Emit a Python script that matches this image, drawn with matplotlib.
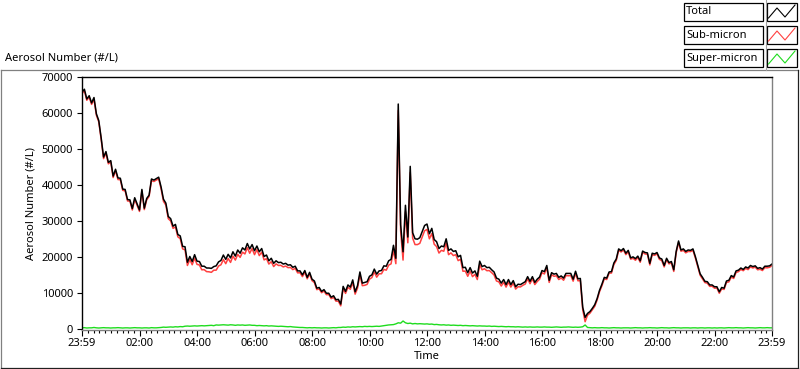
import numpy as np
import matplotlib
matplotlib.use("Agg")
import matplotlib.pyplot as plt
from matplotlib.patches import Rectangle
from matplotlib.lines import Line2D

plt.rcParams['font.family'] = ['Noto Sans', 'DejaVu Sans']

# Total aerosol number (#/L), one reading every 5 minutes from 23:59
total = [
    65800, 66600, 63900, 64800, 62800, 64300, 59800, 57900, 53100, 47800, 49300, 46300,
    46800, 42500, 44400, 42000, 41900, 38900, 38800, 36000, 35900, 33500, 36500, 34800,
    33100, 38800, 33600, 36300, 37200, 41700, 41400, 41800, 42200, 39500, 36100, 35000,
    31300, 30700, 28600, 29100, 26300, 25900, 23000, 22900, 18600, 20200, 18800, 20700,
    18900, 18800, 17500, 17500, 17000, 17000, 16900, 17400, 17600, 18700, 19100, 20600,
    19400, 20800, 19800, 21500, 20300, 22000, 21100, 22600, 22000, 23800, 22300, 23500,
    21800, 23100, 21500, 22400, 20200, 20600, 19000, 19700, 18300, 19000, 18500, 18600,
    18100, 18300, 17800, 17900, 17200, 17500, 16200, 16200, 15100, 16300, 14400, 15800,
    13900, 13400, 11400, 11600, 10500, 11000, 10000, 10000, 8900, 9300, 8200, 8300,
    7000, 11900, 10500, 12300, 11700, 13700, 10400, 12100, 15900, 12800, 13000, 13200,
    14700, 15100, 16700, 15300, 16200, 16300, 17600, 17500, 19000, 19400, 23300, 19700,
    62500, 29000, 21500, 34400, 25600, 45200, 26800, 25100, 25000, 25400, 27100, 28800,
    29200, 26500, 28000, 24900, 24300, 22400, 23100, 22900, 25100, 21900, 22300, 21600,
    21800, 20100, 20500, 17100, 17200, 15700, 17100, 15600, 16200, 14700, 18900, 17400,
    17700, 17100, 17200, 16500, 15900, 14200, 13900, 12800, 13800, 12400, 13800, 12400,
    13500, 11800, 12500, 12400, 12800, 13200, 14600, 13300, 14600, 13000, 13900, 14500,
    16300, 16000, 17700, 13600, 15700, 15300, 15500, 14400, 14800, 14200, 15500, 15500,
    15500, 13900, 16100, 14000, 14100, 6100, 3300, 4400, 4900, 5800, 6800, 8500,
    10800, 12500, 14400, 14200, 15900, 16000, 18400, 19500, 22300, 21800, 22400, 21100,
    21900, 19800, 20100, 19600, 20300, 19000, 21700, 21300, 21200, 18300, 21100, 20900,
    21300, 19800, 19500, 17700, 19700, 18500, 18800, 16500, 21600, 24500, 22000, 22300,
    21600, 22000, 21900, 22300, 20200, 17800, 15400, 14400, 13300, 13200, 12300, 12300,
    11800, 11800, 10400, 11600, 11400, 13400, 13600, 14900, 14500, 16200, 16400, 17000,
    16600, 17300, 17000, 17700, 17400, 17600, 16900, 17100, 16700, 17500, 17500, 17600, 18100,
]

super_micron = [
    400, 450, 350, 400, 400, 500, 400, 350, 400, 450, 400, 400,
    350, 400, 400, 450, 400, 350, 400, 400, 350, 400, 450, 400,
    400, 350, 400, 400, 350, 450, 400, 400, 450, 500, 600, 550,
    600, 650, 600, 700, 650, 750, 700, 850, 900, 850, 900, 950,
    900, 950, 1000, 950, 1000, 1050, 1100, 1000, 1200, 1150, 1200, 1250,
    1200, 1150, 1250, 1200, 1100, 1200, 1150, 1200, 1100, 1150, 1200, 1100,
    1100, 1000, 1050, 1000, 950, 1000, 900, 950, 900, 850, 800, 850,
    800, 750, 700, 750, 650, 600, 550, 500, 500, 450, 400, 450,
    400, 450, 400, 400, 350, 400, 400, 350, 400, 450, 400, 500,
    500, 600, 550, 650, 600, 700, 650, 700, 750, 700, 800, 750,
    800, 750, 800, 850, 800, 900, 1000, 1100, 1200, 1250, 1300, 1500,
    1800, 1700, 2300, 1800, 1600, 1700, 1500, 1600, 1500, 1550, 1500, 1450,
    1500, 1400, 1450, 1300, 1350, 1250, 1200, 1250, 1150, 1200, 1100, 1150,
    1100, 1050, 1100, 1000, 1050, 1000, 950, 1000, 950, 900, 950, 900,
    900, 850, 900, 800, 850, 800, 750, 800, 750, 700, 750, 700,
    700, 650, 700, 650, 600, 650, 600, 650, 600, 600, 650, 600,
    600, 650, 600, 600, 550, 600, 650, 600, 550, 600, 600, 650,
    600, 550, 600, 550, 600, 700, 1200, 500, 450, 400, 450, 400,
    400, 450, 400, 400, 350, 400, 450, 400, 400, 350, 400, 400,
    400, 350, 400, 450, 400, 400, 350, 400, 400, 450, 400, 400,
    350, 400, 450, 400, 400, 350, 400, 450, 400, 400, 350, 400,
    400, 400, 350, 400, 400, 350, 400, 400, 350, 400, 400, 350,
    400, 350, 400, 400, 350, 400, 450, 400, 400, 450, 400, 400,
    350, 400, 450, 400, 400, 350, 400, 450, 400, 400, 450, 400, 400,
]

tick_minutes = [0, 121, 241, 361, 481, 601, 721, 841, 961, 1081, 1201, 1321, 1440]
tick_labels = ["23:59", "02:00", "04:00", "06:00", "08:00", "10:00", "12:00",
               "14:00", "16:00", "18:00", "20:00", "22:00", "23:59"]
series_names = ["Total", "Sub-micron", "Super-micron"]
series_colors = ["#000000", "#FF4040", "#1EDC1E"]

total = np.array(total)
super_micron = np.array(super_micron)
sub_micron = total - super_micron
minutes = np.arange(len(total)) * 5

W, H = 800, 369
fig = plt.figure(figsize=(W / 100, H / 100), dpi=100)


def fx(x):
    return x / W


def fy(y):
    return 1 - y / H


# outer graph frame
fig.add_artist(Line2D([fx(0.5), fx(797.5)], [fy(69.5), fy(69.5)], color="#808080", lw=0.9))
fig.add_artist(Line2D([fx(0.5), fx(0.5)], [fy(69.5), fy(367.5)], color="#808080", lw=0.9))
fig.add_artist(Line2D([fx(0.5), fx(797.5)], [fy(367.5), fy(367.5)], color="#202020", lw=0.9))
fig.add_artist(Line2D([fx(797.5), fx(797.5)], [fy(69.5), fy(367.5)], color="#202020", lw=0.9))
fig.add_artist(Line2D([fx(765.5), fx(765.5)], [fy(0), fy(69.5)], color="#A0A0A0", lw=0.8))

fig.text(fx(5), fy(58), "Aerosol Number (#/L)", fontsize=8, va="center", ha="left")

ax = fig.add_axes([fx(82), fy(330), fx(772) - fx(82), fy(77) - fy(330)])
ax.plot(minutes, sub_micron, color=series_colors[1], lw=1.1)
ax.plot(minutes, total, color=series_colors[0], lw=1.1)
ax.plot(minutes, super_micron, color=series_colors[2], lw=1.0)

ax.set_xlim(0, 1440)
ax.set_ylim(-200, 70000)
ax.set_yticks(np.arange(0, 70001, 10000))
ax.set_xticks(tick_minutes)
ax.set_xticklabels(tick_labels)
minor = []
for a, b in zip(tick_minutes[:-1], tick_minutes[1:]):
    minor += list(np.linspace(a, b, 11)[1:-1])
ax.set_xticks(minor, minor=True)
ax.tick_params(axis="both", labelsize=8, colors="black", width=0.8)
ax.tick_params(axis="x", which="major", length=4, pad=2)
ax.tick_params(axis="x", which="minor", length=2.2, width=0.8)
ax.tick_params(axis="y", length=3.5, pad=3)
ax.spines["left"].set_color("black")
ax.spines["top"].set_color("black")
ax.spines["right"].set_color("#808080")
ax.spines["bottom"].set_color("#808080")
for s in ax.spines.values():
    s.set_linewidth(1.0)
ax.set_xlabel("Time", fontsize=8, labelpad=1)
ax.set_ylabel("Aerosol Number (#/L)", fontsize=8, labelpad=4)

# legend boxes
rows = [(3, 21), (26, 44), (49, 67)]
for (y0, y1), name, col in zip(rows, series_names, series_colors):
    fig.add_artist(Rectangle((fx(684), fy(y1)), fx(763) - fx(684), fy(y0) - fy(y1),
                             facecolor="white", edgecolor="black", lw=0.9))
    fig.text(fx(686), fy((y0 + y1) / 2), name, fontsize=8, va="center", ha="left")
    fig.add_artist(Rectangle((fx(767), fy(y1)), fx(797) - fx(767), fy(y0) - fy(y1),
                             facecolor="white", edgecolor="black", lw=0.9))
    gx = [768.5, 777, 785, 795]
    gy = [y1 - 3, y0 + 5, y1 - 4, y0 + 2]
    fig.add_artist(Line2D([fx(v) for v in gx], [fy(v) for v in gy], color=col, lw=0.8))

fig.savefig("out.png", dpi=100)
